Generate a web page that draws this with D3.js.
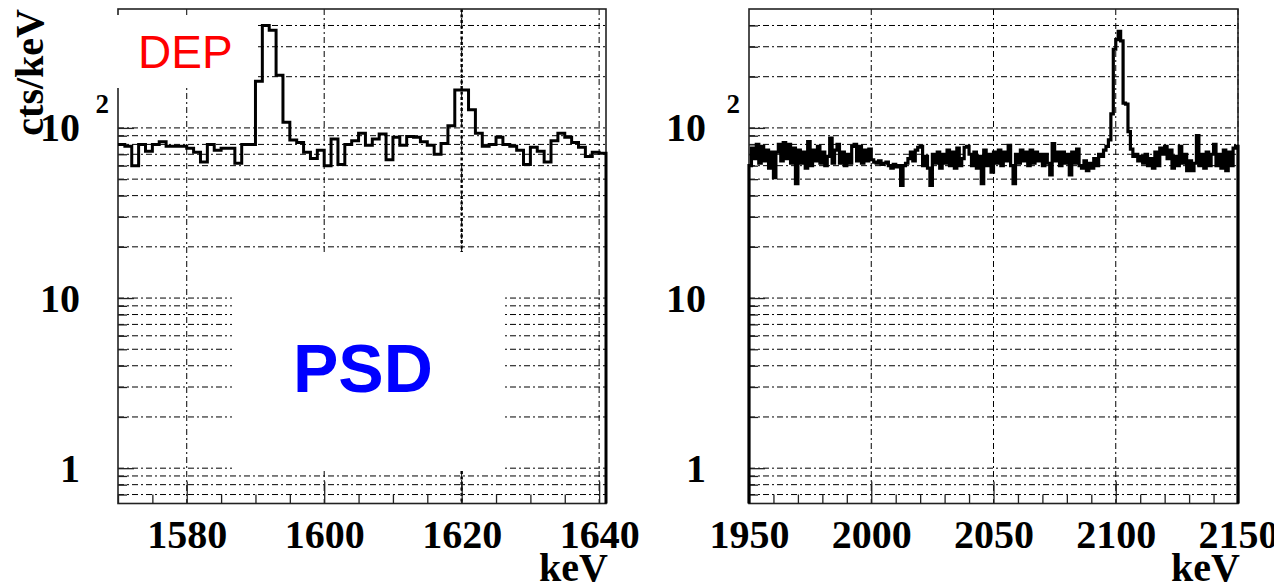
<!DOCTYPE html>
<html>
<head>
<meta charset="utf-8">
<script src="https://cdn.jsdelivr.net/npm/d3@7"></script>
<style>
  html, body { margin: 0; padding: 0; background: #fff; }
  svg { display: block; }
</style>
</head>
<body>
<svg id="chart" width="1274" height="585"></svg>
<script>
// ---- Data: counts per keV in 1 keV bins ----
// Left spectrum: 1570-1641 keV (double escape peak region)
const depStart = 1570;
const depCounts = [
  80, 78, 60, 80, 73, 80, 83, 78, 78, 78,
  76, 72, 63, 80, 74, 76, 76, 62, 80, 80,
  188, 400, 375, 204, 108, 85, 82, 72, 66, 74,
  60, 86, 61, 80, 84, 93, 79, 86, 92, 65,
  88, 79, 89, 88, 83, 79, 70, 81, 103, 167,
  167, 128, 93, 78, 80, 88, 80, 78, 74, 61,
  77, 73, 63, 84, 93, 88, 82, 77, 68, 72,
  71
];

// Right spectrum: 1950-2150 keV
const hiStart = 1950;
const hiCounts = [
  60, 76, 66, 80, 62, 78, 64, 74, 58, 72,
  51, 72, 80, 64, 82, 66, 80, 62, 76, 47,
  74, 62, 72, 58, 83, 60, 74, 64, 78, 62,
  72, 60, 68, 87, 62, 74, 80, 62, 72, 60,
  70, 62, 78, 80, 64, 78, 62, 74, 64, 75,
  65, 63, 62, 64, 61, 62, 63, 60, 58, 61,
  59, 60, 46, 60, 62, 66, 72, 64, 74, 77,
  78, 60, 68, 58, 46, 70, 62, 72, 58, 70,
  62, 74, 60, 72, 58, 76, 60, 66, 77, 78,
  70, 60, 72, 58, 68, 47, 74, 60, 70, 55,
  72, 62, 74, 60, 72, 64, 79, 60, 47, 70,
  62, 74, 64, 72, 60, 74, 62, 72, 64, 70,
  60, 70, 62, 53, 81, 64, 72, 60, 72, 62,
  70, 53, 72, 62, 75, 60, 58, 64, 56, 62,
  58, 66, 60, 70, 68, 74, 78, 85, 121, 290,
  330, 370, 325, 140, 138, 95, 75, 68, 70, 64,
  68, 62, 70, 60, 66, 58, 72, 60, 76, 70,
  78, 66, 74, 58, 68, 60, 78, 62, 70, 56,
  64, 56, 62, 90, 60, 70, 58, 72, 60, 70,
  80, 60, 70, 58, 74, 56, 72, 60, 76, 78
];

// ---- Axes: ranges, ticks and labels ----
const depDomain = [1570, 1641];
const depMajorTicks = [1580, 1600, 1620, 1640];
const depMinorTicks = [1570, 1575, 1585, 1590, 1595, 1605, 1610, 1615, 1625, 1630, 1635];
const depMarkerLines = [1620];

const hiDomain = [1950, 2150];
const hiMajorTicks = [1950, 2000, 2050, 2100, 2150];
const hiMinorTicks = [1960, 1970, 1980, 1990, 2010, 2020, 2030, 2040, 2060, 2070, 2080, 2090, 2110, 2120, 2130, 2140];

const yDomain = [0.62, 500];
const yMajorTicks = [1, 10, 100];
const yMinorTicks = [0.7, 0.8, 0.9, 2, 3, 4, 5, 6, 7, 8, 9, 20, 30, 40, 50, 60, 70, 80, 90, 200, 300, 400];
const yGridValues = yMajorTicks.concat(yMinorTicks);
const yLabels = [
  { value: 1, base: "1", exp: "" },
  { value: 10, base: "10", exp: "" },
  { value: 100, base: "10", exp: "2" }
];

const svg = d3.select("#chart");
const serif = "'Liberation Serif', 'Times New Roman', serif";
const sans = "'Liberation Sans', Arial, sans-serif";
const gridDash = "6,3,2,3";

function drawPanel(p) {
  const x = d3.scaleLinear().domain(p.domain).range([p.left, p.right]);
  const y = d3.scaleLog().domain(yDomain).range([503.5, 9]);
  const g = svg.append("g");
  const [x0, x1] = x.range();
  const [yb, yt] = y.range();

  // horizontal grid
  g.append("g").selectAll("line").data(yGridValues).join("line")
    .attr("x1", x0).attr("x2", x1)
    .attr("y1", d => y(d)).attr("y2", d => y(d))
    .attr("stroke", "#000").attr("stroke-width", 1)
    .attr("stroke-dasharray", gridDash);

  // vertical grid at labelled energies
  g.append("g").selectAll("line")
    .data(p.majorTicks.filter(d => d > p.domain[0]))
    .join("line")
    .attr("x1", d => x(d)).attr("x2", d => x(d))
    .attr("y1", yt).attr("y2", yb)
    .attr("stroke", "#000").attr("stroke-width", 1)
    .attr("stroke-dasharray", gridDash);

  // emphasised reference lines
  g.append("g").selectAll("line").data(p.markers || []).join("line")
    .attr("x1", d => x(d)).attr("x2", d => x(d))
    .attr("y1", yt).attr("y2", yb)
    .attr("stroke", "#000").attr("stroke-width", 2.4)
    .attr("stroke-dasharray", "3,2.5");

  // white panel behind the label in the lower half
  (p.lowMasks || []).forEach(m => {
    g.append("rect").attr("x", m.x).attr("y", m.y)
      .attr("width", m.w).attr("height", m.h).attr("fill", "#fff");
  });

  // frame
  g.append("rect").attr("x", x0).attr("y", yt)
    .attr("width", x1 - x0).attr("height", yb - yt)
    .attr("fill", "none").attr("stroke", "#222").attr("stroke-width", 1.6);

  // bottom axis ticks (drawn inside the frame)
  const bx = g.append("g").attr("transform", `translate(0,${yb})`);
  bx.append("g").call(d3.axisBottom(x).tickValues(p.minorTicks).tickSize(-9).tickFormat(""))
    .call(a => a.select(".domain").remove());
  bx.append("g").call(d3.axisBottom(x).tickValues(p.majorTicks).tickSize(-22).tickPadding(16).tickFormat(d3.format("d")))
    .call(a => a.select(".domain").remove())
    .call(a => a.selectAll("text")
      .attr("font-family", serif).attr("font-weight", "bold")
      .attr("font-size", 40).attr("fill", "#000"));
  bx.selectAll("line").attr("stroke", "#222").attr("stroke-width", 1.3);

  // left axis ticks
  const ly = g.append("g").attr("transform", `translate(${x0},0)`);
  ly.append("g").call(d3.axisLeft(y).tickValues(yMinorTicks).tickSize(-9).tickFormat(""))
    .call(a => a.select(".domain").remove());
  ly.append("g").call(d3.axisLeft(y).tickValues(yMajorTicks).tickSize(-16).tickFormat(""))
    .call(a => a.select(".domain").remove());
  ly.selectAll("line").attr("stroke", "#222").attr("stroke-width", 1.3);

  // y labels (10^2 with raised exponent)
  yLabels.forEach(l => {
    g.append("text")
      .attr("x", x0 - p.labelGap).attr("y", y(l.value) + 13.5)
      .attr("text-anchor", "end")
      .attr("font-family", serif).attr("font-weight", "bold")
      .attr("font-size", 40).attr("fill", "#000")
      .text(l.base);
    if (l.exp) {
      g.append("text")
        .attr("x", x0 - 9).attr("y", y(l.value) - 15)
        .attr("text-anchor", "end")
        .attr("font-family", serif).attr("font-weight", "bold")
        .attr("font-size", 27).attr("fill", "#000")
        .text(l.exp);
    }
  });

  // white box behind the upper label (drawn over the axis)
  (p.topMasks || []).forEach(m => {
    g.append("rect").attr("x", m.x).attr("y", m.y)
      .attr("width", m.w).attr("height", m.h).attr("fill", "#fff");
  });

  // histogram outline (step), with drops to the bottom edge where the spectrum is cut
  const pts = [];
  if (p.dropLeft) pts.push([p.start, null]);
  p.counts.forEach((c, i) => pts.push([p.start + i, c]));
  pts.push([p.start + p.counts.length, p.counts[p.counts.length - 1]]);
  if (p.dropRight) pts.push([p.start + p.counts.length, null]);
  const line = d3.line()
    .x(d => x(d[0]))
    .y(d => d[1] === null ? yb : y(d[1]))
    .curve(d3.curveStepAfter);
  g.append("path").attr("d", line(pts))
    .attr("fill", "none").attr("stroke", "#000")
    .attr("stroke-width", p.lineWidth).attr("stroke-linejoin", "miter");

  // x-axis title
  g.append("text")
    .attr("x", x1 + 2).attr("y", 581)
    .attr("text-anchor", "end")
    .attr("font-family", serif).attr("font-weight", "bold")
    .attr("font-size", 40).attr("fill", "#000")
    .text("keV");

  return { x, y, g };
}

drawPanel({
  domain: depDomain, left: 118, right: 606,
  start: depStart, counts: depCounts,
  majorTicks: depMajorTicks, minorTicks: depMinorTicks,
  markers: depMarkerLines,
  labelGap: 38, lineWidth: 3,
  dropLeft: false, dropRight: true,
  lowMasks: [{ x: 232, y: 252, w: 270, h: 219 }],
  topMasks: [{ x: 110, y: 15, w: 145.5, h: 73 }]
});

drawPanel({
  domain: hiDomain, left: 749, right: 1238,
  start: hiStart, counts: hiCounts,
  majorTicks: hiMajorTicks, minorTicks: hiMinorTicks,
  labelGap: 43, lineWidth: 3.2,
  dropLeft: true, dropRight: true
});

// y-axis title
svg.append("text")
  .attr("transform", "translate(43,9) rotate(-90)")
  .attr("text-anchor", "end")
  .attr("font-family", serif).attr("font-weight", "bold")
  .attr("font-size", 40).attr("fill", "#000")
  .text("cts/keV");

// panel annotations
svg.append("text")
  .attr("x", 138).attr("y", 68)
  .attr("font-family", sans).attr("font-size", 46)
  .attr("fill", "#ff0000")
  .text("DEP");

svg.append("text")
  .attr("x", 293).attr("y", 392)
  .attr("font-family", sans).attr("font-weight", "bold").attr("font-size", 68)
  .attr("fill", "#0000ff")
  .text("PSD");
</script>
</body>
</html>
